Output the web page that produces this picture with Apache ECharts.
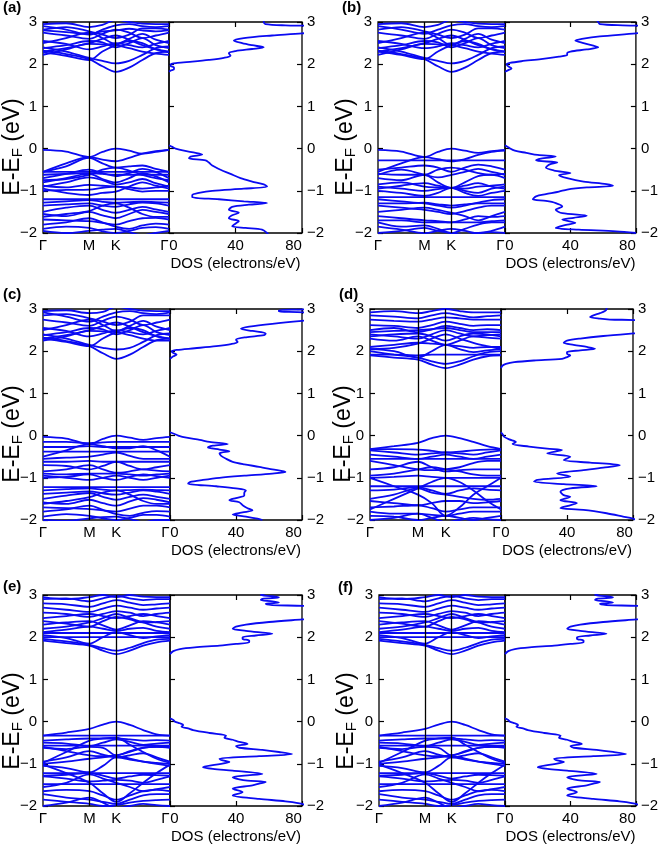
<!DOCTYPE html>
<html><head><meta charset="utf-8">
<script src="https://cdn.jsdelivr.net/npm/echarts@6.0.0/dist/echarts.min.js"></script>
<style>html,body{margin:0;padding:0;background:#fff}#c{width:661px;height:847px}</style>
</head><body><div id="c"></div>
<script>
// ---------- shared axis data ----------
const kPath = [0, 0.289, 0.577, 0.744, 0.911, 1.078, 1.244, 1.411, 1.577]; // Γ ... M ... K ... Γ
const kTicks = [0, 0.577, 0.911, 1.577];
const kTickLabels = ['Γ', 'M', 'K', 'Γ'];
const eTicks = [-2, -1, 0, 1, 2, 3];
const dosTicks = [0, 40, 80];
const panelLetters = ['(a)', '(b)', '(c)', '(d)', '(e)', '(f)'];

// ---------- band energies (eV) at kPath ----------
const bandsA = [
 [2.32,2.24,2.12,1.95,1.82,1.92,2.10,2.26,2.30],
 [2.40,2.30,2.15,2.08,2.02,2.08,2.22,2.38,2.42],
 [2.22,2.35,2.48,2.47,2.45,2.38,2.30,2.25,2.22],
 [2.28,2.20,2.10,2.30,2.45,2.55,2.50,2.35,2.28],
 [2.50,2.62,2.75,2.62,2.48,2.60,2.72,2.58,2.50],
 [2.55,2.48,2.35,2.42,2.50,2.45,2.40,2.48,2.55],
 [2.75,2.68,2.60,2.72,2.82,2.75,2.62,2.68,2.75],
 [2.82,2.88,2.78,2.70,2.62,2.70,2.85,2.85,2.82],
 [2.90,2.82,2.70,2.82,2.92,2.95,2.90,2.88,2.90],
 [2.95,2.97,2.88,2.93,3.05,3.00,2.96,2.95,2.95],
 [2.38,2.45,2.55,2.52,2.40,2.50,2.62,2.45,2.38],
 [2.80,2.76,2.72,2.78,2.80,2.84,2.80,2.78,2.80],
 [2.30,2.38,2.50,2.60,2.68,2.58,2.45,2.36,2.30],
 [-0.03,-0.07,-0.20,-0.08,0.00,-0.05,-0.12,-0.08,-0.03],
 [-0.55,-0.35,-0.20,-0.26,-0.30,-0.22,-0.12,-0.06,-0.03],
 [-0.55,-0.42,-0.22,-0.35,-0.45,-0.42,-0.40,-0.48,-0.55],
 [-0.55,-0.55,-0.55,-0.55,-0.55,-0.55,-0.55,-0.55,-0.55],
 [-0.62,-0.60,-0.58,-0.60,-0.62,-0.62,-0.62,-0.62,-0.62],
 [-0.70,-0.60,-0.50,-0.58,-0.65,-0.58,-0.48,-0.55,-0.70],
 [-0.75,-0.72,-0.62,-0.50,-0.45,-0.52,-0.62,-0.70,-0.75],
 [-0.90,-0.80,-0.68,-0.75,-0.85,-0.80,-0.72,-0.82,-0.90],
 [-0.88,-0.92,-0.86,-0.88,-0.90,-0.92,-0.95,-0.92,-0.88],
 [-1.00,-0.98,-0.97,-0.93,-0.90,-0.96,-1.02,-1.00,-1.00],
 [-0.95,-1.05,-1.10,-1.05,-1.02,-0.90,-0.80,-0.88,-0.95],
 [-1.20,-1.20,-1.20,-1.20,-1.20,-1.20,-1.20,-1.20,-1.20],
 [-1.28,-1.25,-1.22,-1.26,-1.28,-1.27,-1.26,-1.27,-1.28],
 [-1.35,-1.32,-1.30,-1.35,-1.38,-1.32,-1.28,-1.30,-1.35],
 [-1.50,-1.40,-1.35,-1.45,-1.52,-1.45,-1.38,-1.44,-1.50],
 [-1.55,-1.60,-1.50,-1.58,-1.65,-1.55,-1.45,-1.50,-1.55],
 [-1.68,-1.70,-1.72,-1.76,-1.80,-1.72,-1.65,-1.64,-1.68],
 [-1.80,-1.75,-1.65,-1.75,-1.85,-1.90,-1.82,-1.78,-1.80],
 [-1.90,-1.85,-1.88,-1.96,-2.00,-1.95,-1.88,-1.86,-1.90],
 [-1.95,-2.00,-1.95,-1.92,-1.90,-1.98,-2.05,-2.00,-1.95],
 [-1.62,-1.55,-1.48,-1.35,-1.30,-1.40,-1.55,-1.62,-1.62],
 [-0.80,-0.70,-0.60,-0.72,-0.80,-0.70,-0.58,-0.66,-0.80]
];
const bandsB = [
 [2.32,2.24,2.12,1.95,1.82,1.92,2.10,2.26,2.30],
 [2.40,2.30,2.15,2.08,2.02,2.08,2.22,2.38,2.42],
 [2.22,2.35,2.48,2.47,2.45,2.38,2.30,2.25,2.22],
 [2.30,2.22,2.12,2.30,2.45,2.55,2.48,2.35,2.30],
 [2.50,2.62,2.75,2.62,2.45,2.60,2.72,2.58,2.50],
 [2.55,2.48,2.38,2.42,2.50,2.45,2.40,2.48,2.55],
 [2.75,2.68,2.60,2.72,2.82,2.75,2.62,2.68,2.75],
 [2.82,2.88,2.78,2.70,2.62,2.70,2.85,2.85,2.82],
 [2.90,2.82,2.72,2.82,2.92,2.95,2.90,2.88,2.90],
 [2.95,2.97,2.88,2.93,3.05,3.00,2.96,2.95,2.95],
 [2.38,2.45,2.55,2.52,2.40,2.50,2.62,2.45,2.38],
 [2.30,2.38,2.50,2.60,2.68,2.58,2.45,2.36,2.30],
 [-0.03,-0.07,-0.20,-0.08,0.00,-0.05,-0.10,-0.06,-0.03],
 [-0.28,-0.28,-0.28,-0.28,-0.28,-0.28,-0.28,-0.28,-0.28],
 [-0.55,-0.35,-0.20,-0.25,-0.30,-0.25,-0.15,-0.08,-0.05],
 [-0.60,-0.62,-0.62,-0.50,-0.45,-0.50,-0.58,-0.62,-0.60],
 [-0.62,-0.50,-0.62,-0.68,-0.62,-0.55,-0.48,-0.55,-0.62],
 [-0.70,-0.75,-0.62,-0.80,-0.93,-0.80,-0.65,-0.62,-0.70],
 [-0.85,-0.80,-0.90,-0.92,-0.93,-0.95,-0.90,-0.88,-0.85],
 [-0.90,-0.95,-1.00,-0.96,-0.93,-1.00,-1.05,-0.95,-0.90],
 [-0.95,-0.88,-0.82,-0.88,-0.93,-0.88,-0.82,-0.90,-0.95],
 [-1.00,-1.05,-1.12,-1.05,-0.93,-1.05,-1.12,-1.05,-1.00],
 [-1.15,-1.15,-1.15,-1.15,-1.15,-1.15,-1.15,-1.15,-1.15],
 [-1.30,-1.30,-1.28,-1.32,-1.35,-1.32,-1.30,-1.30,-1.30],
 [-1.35,-1.40,-1.45,-1.50,-1.55,-1.48,-1.40,-1.35,-1.35],
 [-1.50,-1.45,-1.40,-1.45,-1.52,-1.60,-1.70,-1.60,-1.50],
 [-1.60,-1.65,-1.70,-1.72,-1.75,-1.68,-1.60,-1.62,-1.60],
 [-1.70,-1.70,-1.75,-1.75,-1.75,-1.75,-1.75,-1.72,-1.70],
 [-1.75,-1.85,-1.82,-1.90,-2.00,-1.90,-1.80,-1.75,-1.75],
 [-1.85,-1.92,-2.00,-1.95,-1.90,-1.95,-2.00,-1.95,-1.85],
 [-2.00,-1.95,-1.88,-1.95,-2.00,-2.05,-2.00,-1.98,-2.00],
 [-1.20,-1.25,-1.30,-1.35,-1.40,-1.35,-1.28,-1.22,-1.20],
 [-0.50,-0.45,-0.40,-0.45,-0.55,-0.45,-0.38,-0.42,-0.50]
];
const bandsC = [
 [2.32,2.24,2.12,1.95,1.82,1.92,2.10,2.26,2.30],
 [2.40,2.30,2.15,2.08,2.04,2.08,2.22,2.38,2.42],
 [2.25,2.35,2.48,2.47,2.45,2.38,2.30,2.25,2.25],
 [2.30,2.22,2.12,2.30,2.45,2.55,2.50,2.35,2.30],
 [2.50,2.62,2.75,2.62,2.48,2.60,2.72,2.58,2.50],
 [2.55,2.48,2.35,2.42,2.50,2.45,2.40,2.48,2.55],
 [2.75,2.68,2.60,2.72,2.82,2.75,2.62,2.68,2.75],
 [2.85,2.88,2.78,2.70,2.62,2.70,2.85,2.85,2.85],
 [2.92,2.82,2.70,2.82,2.92,2.95,2.90,2.88,2.92],
 [2.95,2.97,2.90,2.93,3.05,3.00,2.96,2.95,2.95],
 [2.38,2.45,2.55,2.52,2.40,2.50,2.62,2.45,2.38],
 [2.30,2.38,2.50,2.60,2.68,2.58,2.45,2.36,2.30],
 [-0.03,-0.07,-0.20,-0.08,0.00,-0.05,-0.10,-0.06,-0.03],
 [-0.15,-0.15,-0.18,-0.16,-0.15,-0.15,-0.15,-0.15,-0.15],
 [-0.27,-0.27,-0.25,-0.27,-0.27,-0.27,-0.27,-0.27,-0.27],
 [-0.38,-0.38,-0.38,-0.38,-0.38,-0.38,-0.38,-0.38,-0.38],
 [-0.50,-0.35,-0.20,-0.25,-0.30,-0.30,-0.25,-0.35,-0.50],
 [-0.55,-0.52,-0.50,-0.45,-0.40,-0.48,-0.55,-0.55,-0.55],
 [-0.62,-0.62,-0.60,-0.62,-0.62,-0.62,-0.62,-0.62,-0.62],
 [-0.70,-0.72,-0.80,-0.72,-0.62,-0.72,-0.80,-0.75,-0.70],
 [-0.85,-0.80,-0.70,-0.80,-0.88,-0.85,-0.80,-0.83,-0.85],
 [-0.90,-0.92,-0.90,-0.90,-0.90,-0.92,-0.95,-0.92,-0.90],
 [-0.95,-1.00,-1.05,-1.00,-0.95,-1.00,-1.05,-1.00,-0.95],
 [-1.00,-0.98,-0.92,-1.00,-1.05,-0.98,-0.92,-0.96,-1.00],
 [-1.22,-1.22,-1.22,-1.22,-1.22,-1.22,-1.22,-1.22,-1.22],
 [-1.30,-1.27,-1.25,-1.28,-1.30,-1.29,-1.28,-1.29,-1.30],
 [-1.38,-1.35,-1.32,-1.37,-1.40,-1.35,-1.30,-1.33,-1.38],
 [-1.50,-1.42,-1.36,-1.45,-1.52,-1.45,-1.40,-1.45,-1.50],
 [-1.58,-1.62,-1.52,-1.60,-1.66,-1.56,-1.48,-1.52,-1.58],
 [-1.70,-1.72,-1.74,-1.77,-1.80,-1.73,-1.66,-1.66,-1.70],
 [-1.80,-1.75,-1.66,-1.76,-1.86,-1.90,-1.83,-1.79,-1.80],
 [-1.92,-1.86,-1.90,-1.96,-2.00,-1.95,-1.88,-1.88,-1.92],
 [-2.00,-2.02,-1.96,-1.93,-1.92,-1.98,-2.05,-2.00,-2.00],
 [-1.62,-1.55,-1.46,-1.35,-1.30,-1.40,-1.55,-1.62,-1.62]
];
const bandsD = [
 [1.90,1.85,1.80,1.68,1.60,1.68,1.80,1.88,1.90],
 [2.00,1.92,1.85,1.76,1.70,1.76,1.88,1.97,2.00],
 [1.92,1.92,1.90,1.92,1.92,1.92,1.92,1.92,1.92],
 [2.05,2.00,1.85,2.00,2.15,2.05,1.98,2.02,2.05],
 [2.10,2.15,2.20,2.18,2.15,2.12,2.08,2.10,2.10],
 [2.30,2.25,2.35,2.25,2.15,2.25,2.35,2.32,2.30],
 [2.35,2.40,2.42,2.35,2.25,2.35,2.42,2.40,2.35],
 [2.45,2.48,2.50,2.52,2.55,2.50,2.45,2.45,2.45],
 [2.50,2.55,2.45,2.52,2.60,2.55,2.50,2.52,2.50],
 [2.62,2.60,2.55,2.62,2.70,2.65,2.60,2.62,2.62],
 [2.75,2.72,2.70,2.75,2.80,2.78,2.75,2.75,2.75],
 [2.85,2.82,2.78,2.85,2.90,2.85,2.80,2.83,2.85],
 [2.92,2.95,2.90,2.95,3.00,2.95,2.92,2.92,2.92],
 [2.40,2.35,2.30,2.40,2.50,2.42,2.35,2.38,2.40],
 [2.05,2.08,2.18,2.30,2.40,2.30,2.20,2.12,2.05],
 [-0.32,-0.25,-0.17,-0.06,0.00,-0.06,-0.15,-0.25,-0.32],
 [-0.35,-0.40,-0.45,-0.42,-0.40,-0.42,-0.45,-0.40,-0.35],
 [-0.32,-0.32,-0.33,-0.36,-0.40,-0.38,-0.35,-0.33,-0.32],
 [-0.45,-0.50,-0.55,-0.50,-0.45,-0.50,-0.55,-0.50,-0.45],
 [-0.55,-0.55,-0.55,-0.55,-0.55,-0.55,-0.55,-0.55,-0.55],
 [-0.60,-0.70,-0.80,-0.82,-0.80,-0.75,-0.65,-0.60,-0.60],
 [-0.80,-0.75,-0.62,-0.75,-0.85,-0.82,-0.80,-0.80,-0.80],
 [-0.95,-0.90,-0.80,-0.75,-0.80,-0.85,-0.92,-0.95,-0.95],
 [-1.00,-0.98,-0.95,-0.98,-1.00,-1.00,-1.00,-1.00,-1.00],
 [-1.20,-1.20,-1.20,-1.20,-1.20,-1.20,-1.20,-1.20,-1.20],
 [-1.30,-1.28,-1.22,-1.30,-1.38,-1.30,-1.25,-1.28,-1.30],
 [-1.50,-1.40,-1.25,-1.35,-1.40,-1.45,-1.50,-1.52,-1.50],
 [-1.55,-1.60,-1.65,-1.60,-1.55,-1.55,-1.60,-1.58,-1.55],
 [-1.70,-1.68,-1.65,-1.72,-1.80,-1.75,-1.70,-1.70,-1.70],
 [-1.80,-1.85,-1.85,-1.88,-1.90,-1.85,-1.80,-1.80,-1.80],
 [-1.90,-1.92,-2.00,-1.95,-1.90,-1.95,-2.00,-1.95,-1.90],
 [-2.00,-1.95,-1.85,-1.95,-2.05,-2.00,-1.95,-1.98,-2.00],
 [-1.00,-1.20,-1.40,-1.60,-1.90,-1.70,-1.40,-1.20,-1.00],
 [-1.75,-1.50,-1.25,-1.10,-1.00,-1.10,-1.30,-1.55,-1.75]
];
const bandsE = [
 [1.92,1.86,1.80,1.68,1.60,1.68,1.80,1.88,1.92],
 [1.96,1.90,1.82,1.74,1.68,1.75,1.86,1.94,1.96],
 [2.00,2.00,2.00,2.00,2.00,2.00,2.00,2.00,2.00],
 [2.10,2.10,2.10,2.10,2.10,2.10,2.10,2.10,2.10],
 [2.05,1.98,1.85,2.00,2.12,2.05,1.98,2.02,2.05],
 [2.12,2.18,2.25,2.20,2.15,2.20,2.22,2.15,2.12],
 [2.30,2.35,2.38,2.28,2.18,2.28,2.38,2.35,2.30],
 [2.38,2.32,2.25,2.38,2.48,2.42,2.35,2.36,2.38],
 [2.45,2.50,2.55,2.50,2.45,2.50,2.55,2.50,2.45],
 [2.58,2.55,2.48,2.55,2.62,2.58,2.50,2.55,2.58],
 [2.70,2.65,2.60,2.68,2.75,2.70,2.65,2.68,2.70],
 [2.80,2.78,2.72,2.80,2.88,2.82,2.76,2.78,2.80],
 [2.90,2.92,2.85,2.92,2.98,2.92,2.88,2.90,2.90],
 [2.95,2.90,2.95,3.00,2.95,3.00,2.96,2.95,2.95],
 [2.20,2.25,2.35,2.45,2.55,2.45,2.35,2.25,2.20],
 [-0.33,-0.26,-0.17,-0.07,0.00,-0.08,-0.20,-0.30,-0.33],
 [-0.33,-0.33,-0.33,-0.33,-0.33,-0.33,-0.33,-0.33,-0.33],
 [-0.45,-0.42,-0.40,-0.40,-0.40,-0.42,-0.45,-0.44,-0.45],
 [-0.50,-0.52,-0.58,-0.50,-0.42,-0.48,-0.55,-0.52,-0.50],
 [-0.57,-0.57,-0.57,-0.57,-0.57,-0.57,-0.57,-0.57,-0.57],
 [-0.60,-0.70,-0.80,-0.82,-0.80,-0.72,-0.62,-0.60,-0.60],
 [-0.95,-0.85,-0.70,-0.78,-0.85,-0.80,-0.75,-0.85,-0.95],
 [-1.00,-0.95,-0.88,-0.85,-0.82,-0.88,-0.95,-0.98,-1.00],
 [-0.98,-0.72,-0.45,-0.40,-0.38,-0.55,-0.72,-0.88,-0.98],
 [-1.22,-1.22,-1.22,-1.22,-1.22,-1.22,-1.22,-1.22,-1.22],
 [-1.28,-1.26,-1.22,-1.28,-1.35,-1.30,-1.26,-1.27,-1.28],
 [-1.30,-1.35,-1.42,-1.40,-1.38,-1.40,-1.45,-1.38,-1.30],
 [-1.48,-1.48,-1.48,-1.48,-1.48,-1.48,-1.48,-1.48,-1.48],
 [-1.55,-1.45,-1.25,-1.35,-1.45,-1.55,-1.65,-1.60,-1.55],
 [-1.65,-1.62,-1.65,-1.75,-1.85,-1.75,-1.65,-1.62,-1.65],
 [-1.72,-1.80,-1.85,-1.90,-1.95,-1.85,-1.75,-1.72,-1.72],
 [-1.85,-1.90,-1.95,-2.00,-1.98,-1.92,-1.88,-1.86,-1.85],
 [-2.00,-1.92,-1.80,-1.92,-2.05,-2.00,-1.95,-1.98,-2.00],
 [-1.02,-1.22,-1.45,-1.70,-1.90,-1.70,-1.45,-1.22,-1.02],
 [-1.05,-1.10,-1.20,-1.05,-0.85,-0.90,-0.95,-1.00,-1.05],
 [-0.62,-0.65,-0.60,-0.62,-0.80,-0.70,-0.62,-0.60,-0.62]
];
const bandsF = bandsE; // panel (f) shows the same bands as (e)

// ---------- DOS: [energy (eV), DOS (electrons/eV)] ----------
const dosA_cb = [[3.05,57],[3.0,57],[2.95,58],[2.92,70],[2.9,90],[2.8,95],[2.73,80],[2.68,62],[2.62,45],[2.56,39],[2.5,44],[2.45,50],[2.4,57],[2.36,50],[2.31,40],[2.26,36],[2.2,37],[2.15,33],[2.1,24],[2.06,14],[2.03,5],[2.0,1],[1.96,1],[1.92,3],[1.88,3],[1.85,1],[1.82,0]];
const dosA_vb = [[0.08,0],[0.04,2],[0.0,4],[-0.05,9],[-0.1,16],[-0.14,20],[-0.19,13],[-0.23,12],[-0.28,22],[-0.33,24],[-0.4,26],[-0.5,31],[-0.6,37],[-0.7,43],[-0.78,50],[-0.85,57],[-0.9,59],[-0.95,45],[-1.0,26],[-1.05,18],[-1.1,14],[-1.15,14],[-1.2,30],[-1.25,45],[-1.29,59],[-1.33,48],[-1.38,38],[-1.45,36],[-1.52,42],[-1.58,38],[-1.65,36],[-1.72,42],[-1.78,40],[-1.84,38],[-1.88,46],[-1.92,56],[-2.0,59],[-2.05,60]];
const dosB_cb = [[3.05,56],[3.0,57],[2.95,58],[2.92,72],[2.9,90],[2.8,95],[2.73,80],[2.66,58],[2.6,47],[2.56,43],[2.5,48],[2.44,54],[2.4,57],[2.35,50],[2.3,40],[2.26,38],[2.22,38],[2.18,33],[2.12,22],[2.07,10],[2.03,3],[2.0,1],[1.95,2],[1.9,4],[1.86,2],[1.82,0]];
const dosB_vb = [[0.08,0],[0.03,2],[-0.05,6],[-0.1,13],[-0.15,20],[-0.19,31],[-0.24,22],[-0.28,19],[-0.33,32],[-0.38,27],[-0.45,25],[-0.52,30],[-0.58,40],[-0.63,33],[-0.7,38],[-0.78,48],[-0.84,62],[-0.88,66],[-0.92,50],[-0.97,38],[-1.02,33],[-1.08,25],[-1.13,19],[-1.2,17],[-1.24,25],[-1.29,31],[-1.37,35],[-1.45,31],[-1.53,35],[-1.59,50],[-1.64,42],[-1.68,35],[-1.76,43],[-1.82,36],[-1.88,31],[-1.92,45],[-1.96,68],[-2.0,80]];
const dosC_cb = [[3.05,90],[3.0,85],[2.97,66],[2.94,66],[2.91,85],[2.75,90],[2.72,80],[2.65,62],[2.58,48],[2.53,43],[2.48,50],[2.42,58],[2.38,57],[2.33,46],[2.27,40],[2.22,41],[2.17,37],[2.12,28],[2.07,15],[2.03,4],[2.0,1],[1.96,2],[1.92,4],[1.88,2],[1.82,0]];
const dosC_vb = [[0.08,0],[0.05,2],[0.0,5],[-0.05,10],[-0.1,18],[-0.15,24],[-0.2,35],[-0.24,26],[-0.28,23],[-0.33,30],[-0.37,36],[-0.42,30],[-0.48,31],[-0.55,34],[-0.62,38],[-0.68,45],[-0.74,54],[-0.8,62],[-0.86,70],[-0.9,62],[-0.95,45],[-1.0,30],[-1.05,20],[-1.1,12],[-1.14,11],[-1.2,28],[-1.25,40],[-1.3,46],[-1.36,45],[-1.42,45],[-1.48,40],[-1.53,36],[-1.58,42],[-1.65,44],[-1.72,47],[-1.77,50],[-1.82,44],[-1.87,38],[-1.92,46],[-1.97,53],[-2.0,56]];
const dosD_cb = [[3.05,64],[3.0,64],[2.95,63],[2.9,60],[2.85,56],[2.81,54],[2.77,60],[2.75,66],[2.73,85],[2.6,95],[2.45,90],[2.42,80],[2.36,62],[2.3,48],[2.25,40],[2.2,38],[2.15,44],[2.1,52],[2.06,57],[2.02,48],[1.98,40],[1.94,40],[1.9,42],[1.86,40],[1.82,37],[1.78,20],[1.74,8],[1.7,3],[1.66,1],[1.6,0]];
const dosD_vb = [[0.08,0],[0.03,1],[-0.03,2],[-0.09,5],[-0.15,9],[-0.2,7],[-0.26,17],[-0.31,28],[-0.34,37],[-0.42,28],[-0.5,42],[-0.58,38],[-0.64,54],[-0.7,72],[-0.76,62],[-0.82,50],[-0.9,34],[-0.97,42],[-1.05,22],[-1.09,20],[-1.15,38],[-1.2,58],[-1.25,42],[-1.33,36],[-1.41,38],[-1.45,42],[-1.53,36],[-1.6,46],[-1.69,38],[-1.72,36],[-1.76,50],[-1.84,64],[-1.92,74],[-1.97,80],[-2.05,85]];
const dosE_cb = [[3.05,58],[3.0,55],[2.97,62],[2.94,66],[2.91,56],[2.88,55],[2.85,62],[2.82,66],[2.79,58],[2.76,62],[2.73,85],[2.6,95],[2.45,90],[2.42,80],[2.36,60],[2.3,46],[2.25,40],[2.2,38],[2.15,46],[2.1,58],[2.08,62],[2.04,52],[2.0,44],[1.96,44],[1.92,48],[1.88,48],[1.84,40],[1.8,30],[1.76,15],[1.72,6],[1.67,2],[1.6,0]];
const dosE_vb = [[0.08,0],[0.04,2],[0.0,3],[-0.04,6],[-0.08,8],[-0.12,7],[-0.16,11],[-0.2,14],[-0.27,24],[-0.33,34],[-0.38,33],[-0.43,38],[-0.48,42],[-0.53,47],[-0.58,40],[-0.62,42],[-0.67,56],[-0.72,66],[-0.77,74],[-0.82,54],[-0.88,30],[-0.92,32],[-0.96,36],[-1.02,28],[-1.08,20],[-1.12,26],[-1.16,38],[-1.24,56],[-1.28,45],[-1.32,38],[-1.37,42],[-1.4,47],[-1.43,58],[-1.47,54],[-1.51,50],[-1.59,38],[-1.67,44],[-1.75,38],[-1.83,54],[-1.89,70],[-1.95,80],[-2.05,85]];
const dosF_cb = dosE_cb; // panel (f) DOS matches (e)
const dosF_vb = dosE_vb;

// ---------- drawing ----------
const BLUE = '#0a0af2';
const FONT = '"Liberation Sans", Arial, Helvetica, sans-serif';
const fmtE = v => (v < 0 ? '\u2212' + (-v) : String(v));

const panels = [
  {bands: bandsA, cb: dosA_cb, vb: dosA_vb, b0: 43,  b1: 169, d1: 302, top: 22,  lx: 3,   ly: 8,   tx: 13,  ty: 147},
  {bands: bandsB, cb: dosB_cb, vb: dosB_vb, b0: 378, b1: 505, d1: 637, top: 22,  lx: 342, ly: 8,   tx: 346, ty: 147},
  {bands: bandsC, cb: dosC_cb, vb: dosC_vb, b0: 43,  b1: 170, d1: 302, top: 309, lx: 3,   ly: 295, tx: 13,  ty: 434},
  {bands: bandsD, cb: dosD_cb, vb: dosD_vb, b0: 370, b1: 501, d1: 633, top: 309, lx: 339, ly: 295, tx: 344, ty: 434},
  {bands: bandsE, cb: dosE_cb, vb: dosE_vb, b0: 43,  b1: 170, d1: 302, top: 595, lx: 3,   ly: 587, tx: 13,  ty: 721},
  {bands: bandsF, cb: dosF_cb, vb: dosF_vb, b0: 379, b1: 505, d1: 637, top: 595, lx: 338, ly: 588, tx: 347, ty: 721}
];
const H = 211;

const option = {animation: false, textStyle: {fontFamily: FONT}, grid: [], xAxis: [], yAxis: [], series: [], graphic: []};
const lbl = {color: '#000', fontSize: 15, fontFamily: FONT};
const gridStyle = {show: true, borderColor: '#000', borderWidth: 1.3, containLabel: false};
const noLine = {show: false, onZero: false};
const tickIn = {show: true, inside: true, length: 5, lineStyle: {color: '#000', width: 1.2}};

panels.forEach((p, i) => {
  const gB = option.grid.length;
  option.grid.push(Object.assign({left: p.b0, top: p.top, width: p.b1 - p.b0, height: H}, gridStyle));
  option.grid.push(Object.assign({left: p.b1, top: p.top, width: p.d1 - p.b1, height: H}, gridStyle));
  const gD = gB + 1;

  // band-structure axes
  const xB = option.xAxis.length;
  option.xAxis.push({gridIndex: gB, type: 'value', min: kTicks[0], max: kTicks[3], position: 'bottom',
    axisLine: noLine, axisTick: {show: false}, splitLine: {show: false},
    axisLabel: Object.assign({}, lbl, {margin: 5, customValues: kTicks,
      formatter: v => {
        let j = 0; kTicks.forEach((t, n) => { if (Math.abs(t - v) < Math.abs(kTicks[j] - v)) j = n; });
        return j === kTicks.length - 1 ? '{r|' + kTickLabels[j] + '}' : kTickLabels[j];
      },
      rich: {r: {fontSize: 15, fontFamily: FONT, color: '#000', padding: [0, 9, 0, 0]}}})});
  const yB = option.yAxis.length;
  option.yAxis.push({gridIndex: gB, type: 'value', min: -2, max: 3, interval: 1, position: 'left',
    axisLine: noLine, splitLine: {show: false}, axisTick: tickIn,
    axisLabel: Object.assign({}, lbl, {margin: 6, formatter: fmtE})});

  // DOS axes
  const xD = option.xAxis.length;
  option.xAxis.push({gridIndex: gD, type: 'value', min: 0, max: 80, interval: 40, position: 'bottom',
    axisLine: noLine, splitLine: {show: false}, axisTick: tickIn,
    axisLabel: Object.assign({}, lbl, {margin: 5,
      formatter: v => v === dosTicks[0] ? '{l|' + v + '}' : (v === dosTicks[2] ? '{r|' + v + '}' : String(v)),
      rich: {l: {fontSize: 15, fontFamily: FONT, color: '#000', padding: [0, 0, 0, 9]},
             r: {fontSize: 15, fontFamily: FONT, color: '#000', padding: [0, 17, 0, 0]}}}),
    name: 'DOS (electrons/eV)', nameLocation: 'middle', nameGap: 23,
    nameTextStyle: {color: '#000', fontSize: 15, fontFamily: FONT}});
  option.xAxis.push({gridIndex: gD, type: 'value', min: 0, max: 80, interval: 40, position: 'top',
    axisLine: noLine, splitLine: {show: false}, axisLabel: {show: false}, axisTick: tickIn});
  const yD = option.yAxis.length;
  option.yAxis.push({gridIndex: gD, type: 'value', min: -2, max: 3, interval: 1, position: 'left',
    axisLine: noLine, splitLine: {show: false}, axisLabel: {show: false}, axisTick: tickIn});
  option.yAxis.push({gridIndex: gD, type: 'value', min: -2, max: 3, interval: 1, position: 'right',
    axisLine: noLine, splitLine: {show: false}, axisTick: tickIn,
    axisLabel: Object.assign({}, lbl, {margin: 5, formatter: fmtE})});

  // bands
  p.bands.forEach((b, j) => {
    const s = {type: 'line', xAxisIndex: xB, yAxisIndex: yB, silent: true, clip: true,
      symbol: 'none', smooth: 0.35, z: 2,
      lineStyle: {color: BLUE, width: 1.8},
      data: kPath.map((k, n) => [k, b[n]])};
    if (j === 0) {
      s.markLine = {silent: true, symbol: ['none', 'none'], label: {show: false}, z: 5,
        lineStyle: {color: '#000', width: 1.3, type: 'solid'},
        data: [{xAxis: kTicks[1]}, {xAxis: kTicks[2]}]};
    }
    option.series.push(s);
  });
  // DOS
  [p.cb, p.vb].forEach(arr => {
    option.series.push({type: 'line', xAxisIndex: xD, yAxisIndex: yD, silent: true, clip: true,
      symbol: 'none', smooth: 0.3, z: 2,
      lineStyle: {color: BLUE, width: 1.8},
      data: arr.map(([e, d]) => [d, e])});
  });

  // labels
  option.graphic.push({type: 'text', x: p.lx, y: p.ly, silent: true,
    style: {text: panelLetters[i], fontSize: 15, fontWeight: 'bold', fontFamily: FONT, fill: '#000',
      align: 'left', verticalAlign: 'middle', textAlign: 'left', textVerticalAlign: 'middle'}});
  option.graphic.push({type: 'text', x: p.tx, y: p.ty, rotation: Math.PI / 2, silent: true,
    style: {text: '{m|E-E}{s|F}{m| (eV)}', fill: '#000',
      align: 'center', verticalAlign: 'middle', textAlign: 'center', textVerticalAlign: 'middle',
      rich: {m: {fontSize: 23, fontFamily: FONT, fill: '#000', color: '#000'},
             s: {fontSize: 15, fontFamily: FONT, fill: '#000', color: '#000', padding: [10, 0, 0, 0]}}}});
});

const chart = echarts.init(document.getElementById('c'), null, {renderer: 'canvas'});
chart.setOption(option);
</script>
</body></html>
